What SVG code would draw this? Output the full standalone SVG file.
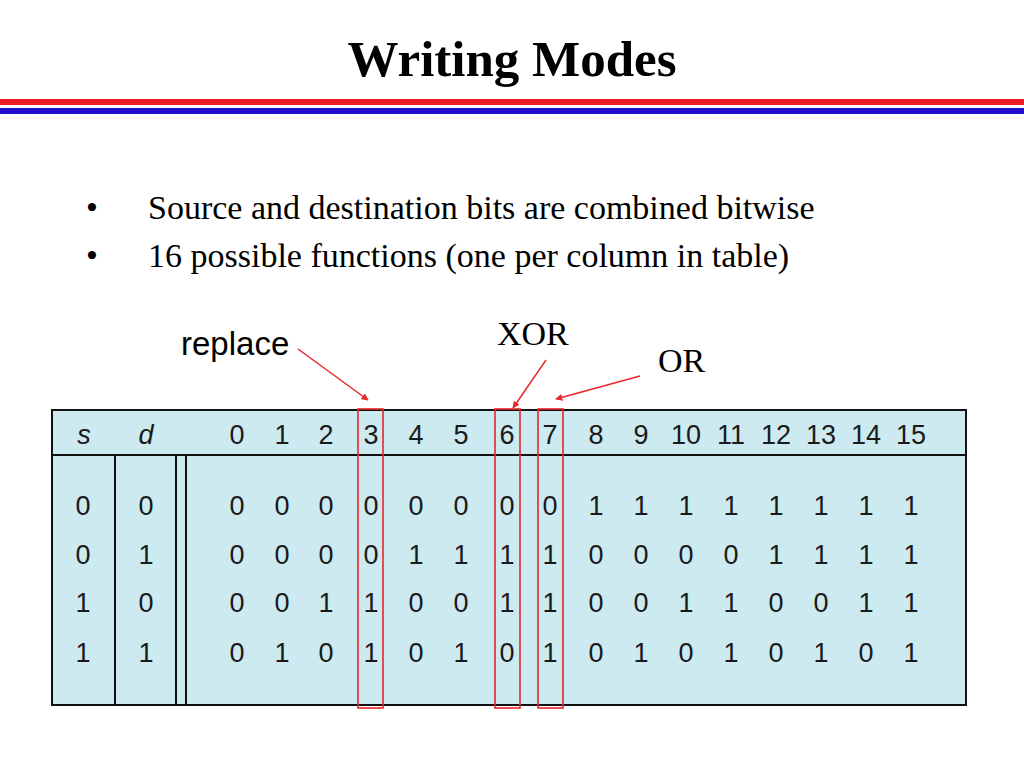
<svg xmlns="http://www.w3.org/2000/svg" width="1024" height="768" viewBox="0 0 1024 768">
<defs>
<style>
.t{font-family:"Liberation Serif","Times New Roman",serif;fill:#000}
.d{font-family:"Liberation Sans",Arial,sans-serif;font-size:27px;fill:#1a1a1a;text-anchor:middle}
.grid{stroke:#111;stroke-width:2;fill:none}
.tbl{stroke:#111;stroke-width:2;fill:#cdeaf1}
.hl{stroke:#e8262b;stroke-width:1.6;fill:none}
.ar{stroke:#e8262b;stroke-width:1.5;fill:none;marker-end:url(#ah)}
</style>
<marker id="ah" viewBox="0 0 10 10" refX="9" refY="5" markerWidth="7" markerHeight="7" orient="auto" markerUnits="userSpaceOnUse"><path d="M0,0 L10,5 L0,10 z" fill="#e8262b"/></marker>
</defs>
<rect width="1024" height="768" fill="#fff"/>
<text class="t" x="512" y="76" font-size="51" font-weight="bold" text-anchor="middle">Writing Modes</text>
<rect x="0" y="99" width="1024" height="6" fill="#ee1c25"/>
<rect x="0" y="108" width="1024" height="6" fill="#2211cc"/>
<g id="bullets">
<text class="t" x="92" y="219" font-size="34" text-anchor="middle">•</text>
<text class="t" x="148" y="219" font-size="34">Source and destination bits are combined bitwise</text>
<text class="t" x="92" y="267" font-size="34" text-anchor="middle">•</text>
<text class="t" x="148" y="267" font-size="34">16 possible functions (one per column in table)</text>
</g>
<g id="table">
<rect class="tbl" x="52" y="410" width="914" height="295"/>
<line class="grid" x1="52" y1="455" x2="966" y2="455"/>
<line class="grid" x1="115" y1="455" x2="115" y2="705"/>
<line class="grid" x1="176" y1="455" x2="176" y2="705"/>
<line class="grid" x1="186" y1="455" x2="186" y2="705"/>
<g class="d">
<text x="84" y="444" font-style="italic">s</text>
<text x="146" y="444" font-style="italic">d</text>
<text x="237" y="444">0</text><text x="282" y="444">1</text><text x="326" y="444">2</text><text x="371" y="444">3</text>
<text x="416" y="444">4</text><text x="461" y="444">5</text><text x="507" y="444">6</text><text x="550" y="444">7</text>
<text x="596" y="444">8</text><text x="641" y="444">9</text><text x="686" y="444">10</text><text x="731" y="444">11</text>
<text x="776" y="444">12</text><text x="821" y="444">13</text><text x="866" y="444">14</text><text x="911" y="444">15</text>
</g>
<g class="d">
<text x="83" y="515">0</text><text x="146" y="515">0</text>
<text x="83" y="564">0</text><text x="146" y="564">1</text>
<text x="83" y="612">1</text><text x="146" y="612">0</text>
<text x="83" y="662">1</text><text x="146" y="662">1</text>
</g>
<g class="d">
<text y="515"><tspan x="237">0</tspan><tspan x="282">0</tspan><tspan x="326">0</tspan><tspan x="371">0</tspan><tspan x="416">0</tspan><tspan x="461">0</tspan><tspan x="507">0</tspan><tspan x="550">0</tspan><tspan x="596">1</tspan><tspan x="641">1</tspan><tspan x="686">1</tspan><tspan x="731">1</tspan><tspan x="776">1</tspan><tspan x="821">1</tspan><tspan x="866">1</tspan><tspan x="911">1</tspan></text>
<text y="564"><tspan x="237">0</tspan><tspan x="282">0</tspan><tspan x="326">0</tspan><tspan x="371">0</tspan><tspan x="416">1</tspan><tspan x="461">1</tspan><tspan x="507">1</tspan><tspan x="550">1</tspan><tspan x="596">0</tspan><tspan x="641">0</tspan><tspan x="686">0</tspan><tspan x="731">0</tspan><tspan x="776">1</tspan><tspan x="821">1</tspan><tspan x="866">1</tspan><tspan x="911">1</tspan></text>
<text y="612"><tspan x="237">0</tspan><tspan x="282">0</tspan><tspan x="326">1</tspan><tspan x="371">1</tspan><tspan x="416">0</tspan><tspan x="461">0</tspan><tspan x="507">1</tspan><tspan x="550">1</tspan><tspan x="596">0</tspan><tspan x="641">0</tspan><tspan x="686">1</tspan><tspan x="731">1</tspan><tspan x="776">0</tspan><tspan x="821">0</tspan><tspan x="866">1</tspan><tspan x="911">1</tspan></text>
<text y="662"><tspan x="237">0</tspan><tspan x="282">1</tspan><tspan x="326">0</tspan><tspan x="371">1</tspan><tspan x="416">0</tspan><tspan x="461">1</tspan><tspan x="507">0</tspan><tspan x="550">1</tspan><tspan x="596">0</tspan><tspan x="641">1</tspan><tspan x="686">0</tspan><tspan x="731">1</tspan><tspan x="776">0</tspan><tspan x="821">1</tspan><tspan x="866">0</tspan><tspan x="911">1</tspan></text>
</g>
</g>
<g id="highlights">
<rect class="hl" x="358" y="409" width="25" height="299"/>
<rect class="hl" x="495" y="409" width="25" height="299"/>
<rect class="hl" x="538" y="409" width="25" height="299"/>
</g>
<g id="labels">
<text x="181" y="355" font-family="Liberation Sans,Arial,sans-serif" font-size="33" fill="#000">replace</text>
<text class="t" x="497" y="345" font-size="34">XOR</text>
<text class="t" x="658" y="372" font-size="34">OR</text>
</g>
<g id="connectors">
<line class="ar" x1="298" y1="349" x2="368" y2="400"/>
<line class="ar" x1="546" y1="360" x2="513" y2="408"/>
<line class="ar" x1="640" y1="376" x2="556" y2="399"/>
</g>
</svg>
